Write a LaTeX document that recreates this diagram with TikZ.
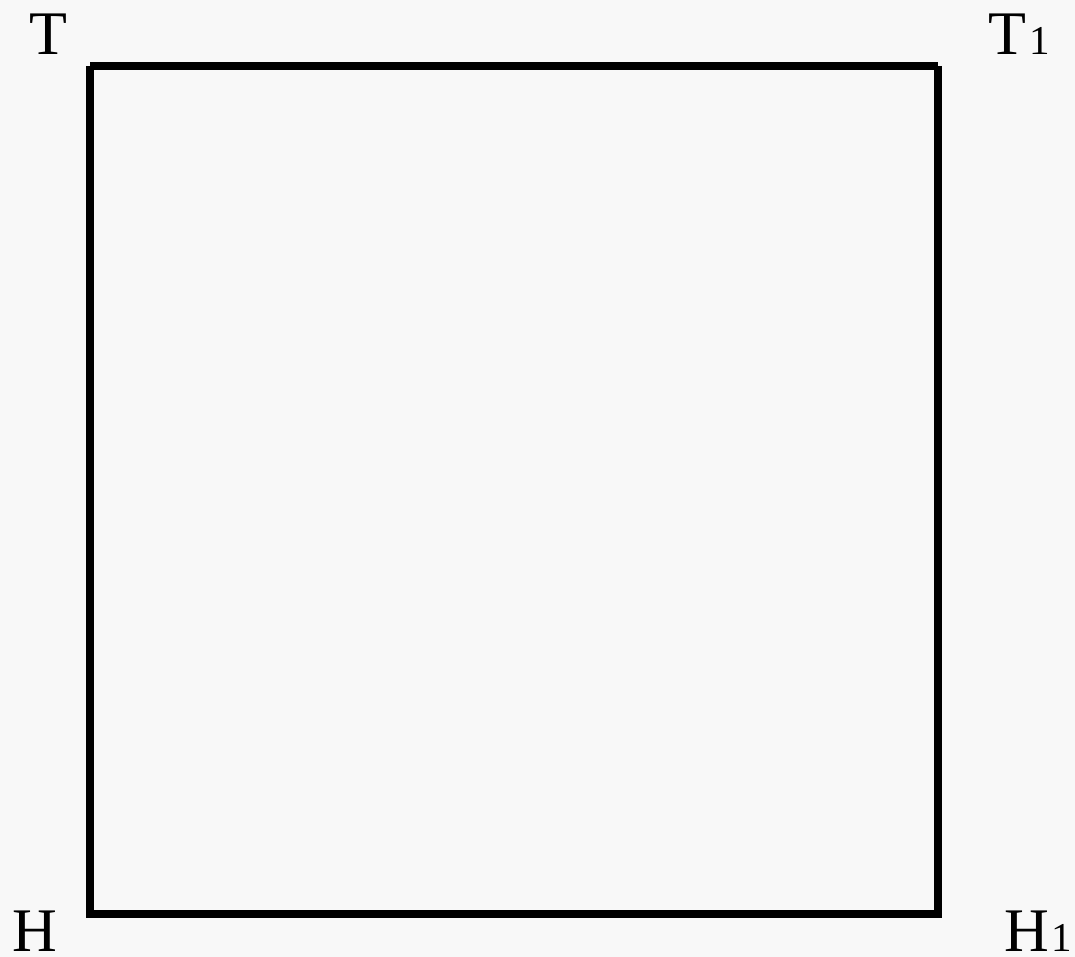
\documentclass[tikz,border=0pt]{standalone}
\usepackage{fontspec}
\setmainfont{Liberation Serif}
\definecolor{bg}{HTML}{F8F8F8}
\begin{document}
\begin{tikzpicture}[x=1pt,y=-1pt,
  edge/.style={line width=8pt,line cap=butt,draw=black},
  lbl/.style={anchor=base west,inner sep=0pt,font=\fontsize{62}{62}\selectfont}]
\fill[bg] (0,0) rectangle (1075,957);
\useasboundingbox (0,0) rectangle (1075,957);
\coordinate (tl) at (90,66);
\coordinate (tr) at (938,66);
\coordinate (blx) at (86,914);
\coordinate (brx) at (942,914);
\coordinate (bly) at (90,918);
\coordinate (bry) at (938,918);
\draw[edge] (tl) -- (tr);
\draw[edge] (tl) -- (bly);
\draw[edge] (tr) -- (bry);
\draw[edge] (blx) -- (brx);
\node[lbl] (T) at (29,55) {T};
\node[lbl] (T1) at (988,55) {T\hspace{3pt}{\fontsize{41}{41}\selectfont 1}};
\node[lbl] (H) at (12,951) {H};
\node[lbl] (H1) at (1004,951) {H\hspace{3pt}{\fontsize{41}{41}\selectfont 1}};
\end{tikzpicture}
\end{document}
